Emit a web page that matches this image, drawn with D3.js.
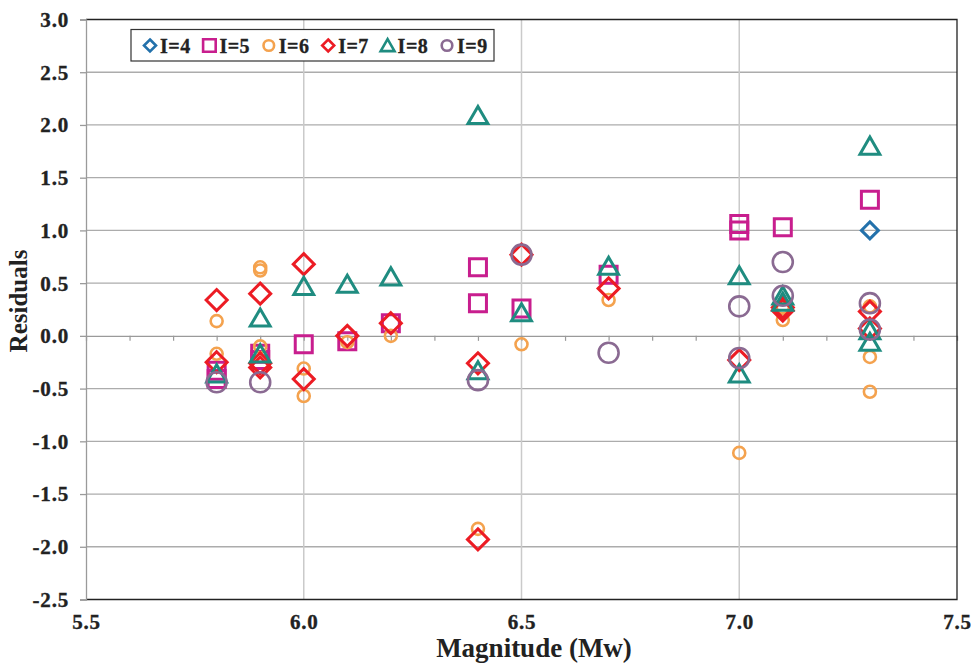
<!DOCTYPE html>
<html>
<head>
<meta charset="utf-8">
<script src="https://cdn.jsdelivr.net/npm/d3@7"></script>
<style>
  body { margin: 0; background: #fff; }
  svg { display: block; font-family: "Liberation Serif", "Times New Roman", serif; font-weight: bold; }
</style>
</head>
<body>
<svg></svg>
<script>
let width = 973
let height = 663
let margin = {top: 19.5, right: 16, bottom: 63.5, left: 86}

// residuals per intensity level, [magnitude, residual]
let seriesNames = ['I=4', 'I=5', 'I=6', 'I=7', 'I=8', 'I=9']

let i4 = [[7.3, 1.00]]
let i5 = [[5.8, -0.33], [5.8, -0.41], [5.9, -0.17], [5.9, -0.23], [6.0, -0.08], [6.1, -0.05],
          [6.2, 0.12], [6.4, 0.65], [6.4, 0.31], [6.5, 0.26], [6.7, 0.58], [7.0, 1.06],
          [7.0, 1.00], [7.1, 1.03], [7.3, 1.29]]
let i6 = [[5.8, 0.14], [5.8, -0.17], [5.9, 0.65], [5.9, 0.62], [5.9, -0.10], [6.0, -0.31],
          [6.0, -0.57], [6.1, -0.06], [6.2, 0.00], [6.4, -1.83], [6.5, -0.08], [6.7, 0.34],
          [7.0, -1.11], [7.1, 0.15], [7.1, 0.27], [7.3, 0.28], [7.3, -0.20], [7.3, -0.53]]
let i7 = [[5.8, 0.34], [5.8, -0.25], [5.9, 0.40], [5.9, -0.26], [5.9, -0.30], [6.0, 0.68],
          [6.0, -0.41], [6.1, 0.00], [6.2, 0.12], [6.4, -0.26], [6.4, -1.93], [6.5, 0.77],
          [6.7, 0.45], [7.0, -0.23], [7.1, 0.27], [7.1, 0.24], [7.3, 0.23], [7.3, 0.07]]
let i8 = [[5.8, -0.36], [5.9, 0.17], [5.9, -0.17], [6.0, 0.47], [6.1, 0.49], [6.2, 0.56],
          [6.4, 2.09], [6.4, -0.33], [6.5, 0.22], [6.7, 0.66], [7.0, 0.57], [7.0, -0.36],
          [7.1, 0.38], [7.1, 0.32], [7.3, 1.80], [7.3, 0.05], [7.3, -0.06]]
let i9 = [[5.8, -0.44], [5.9, -0.44], [6.4, -0.42], [6.5, 0.77], [6.7, -0.16], [7.0, 0.28],
          [7.0, -0.21], [7.1, 0.70], [7.1, 0.38], [7.3, 0.31], [7.3, 0.06]]

let xTicks = [5.5, 6.0, 6.5, 7.0, 7.5]
let yTicks = [-2.5, -2.0, -1.5, -1.0, -0.5, 0.0, 0.5, 1.0, 1.5, 2.0, 2.5, 3.0]
let xGrid = [6.0, 6.5, 7.0]

let series = [
  {name: seriesNames[0], data: i4, color: '#2371ab', shape: 'diamond', size: 8.5, legendSize: 6},
  {name: seriesNames[1], data: i5, color: '#c81e8e', shape: 'square', size: 8.5, legendSize: 6.3},
  {name: seriesNames[2], data: i6, color: '#f4a24e', shape: 'circle', size: 6, legendSize: 5.3},
  {name: seriesNames[3], data: i7, color: '#ec1c24', shape: 'diamond', size: 10.5, legendSize: 6},
  {name: seriesNames[4], data: i8, color: '#1f8c80', shape: 'triangle', size: 9, legendSize: 6.3},
  {name: seriesNames[5], data: i9, color: '#8a6a92', shape: 'circle', size: 10, legendSize: 5.3}
]

let svg = d3.select('svg').attr('width', width).attr('height', height)

let xScale = d3.scaleLinear().domain([5.5, 7.5]).range([margin.left, width - margin.right])
let yScale = d3.scaleLinear().domain([-2.5, 3.0]).range([height - margin.bottom, margin.top])

let x0 = xScale(5.5), x1 = xScale(7.5)
let yTop = yScale(3.0), yBot = yScale(-2.5)

// horizontal grid
svg.append('g')
   .selectAll('line')
   .data(yTicks.filter(d => d != 0 && d != 3.0 && d != -2.5))
   .enter()
   .append('line')
   .attr('x1', x0).attr('x2', x1)
   .attr('y1', d => yScale(d)).attr('y2', d => yScale(d))
   .attr('stroke', '#acacac').attr('stroke-width', 1.3)

// vertical grid
svg.append('g')
   .selectAll('line')
   .data(xGrid)
   .enter()
   .append('line')
   .attr('x1', d => xScale(d)).attr('x2', d => xScale(d))
   .attr('y1', yTop).attr('y2', yBot)
   .attr('stroke', '#cacaca').attr('stroke-width', 1.5)

// zero line with minor ticks
let zeroAxis = d3.axisBottom(xScale)
                 .tickValues(d3.range(56, 75).map(d => d / 10))
                 .tickSize(5)
                 .tickFormat('')
let zg = svg.append('g')
   .attr('transform', 'translate(0,' + yScale(0) + ')')
   .call(zeroAxis)
zg.select('.domain').attr('stroke', '#9a9a9a').attr('stroke-width', 1.3)
zg.selectAll('.tick line').attr('stroke', '#9a9a9a').attr('stroke-width', 1.2)

// frame
svg.append('path')
   .attr('d', `M${x0},${yTop}H${x1}V${yBot}H${x0}`)
   .attr('fill', 'none').attr('stroke', '#222').attr('stroke-width', 1.3)

let styleLabels = sel => sel
  .attr('fill', '#222')
  .attr('stroke', '#222')
  .attr('stroke-width', 0.35)
  .style('font-size', '21px')
  .style('letter-spacing', '0.8px')
  .style('font-family', '"Liberation Serif", serif')
  .style('font-weight', 'bold')

// y axis
let yAxis = d3.axisLeft(yScale)
              .tickValues(yTicks)
              .tickSize(6)
              .tickPadding(11)
              .tickFormat(d => d.toFixed(1))
let yg = svg.append('g')
   .attr('transform', 'translate(' + x0 + ',0)')
   .call(yAxis)
yg.select('.domain').attr('stroke', '#9a9a9a').attr('stroke-width', 1.3)
yg.selectAll('.tick line').attr('stroke', '#9a9a9a').attr('stroke-width', 1.3)
yg.selectAll('.tick text').call(styleLabels).attr('dy', '0.33em')

// x axis labels
let xAxis = d3.axisBottom(xScale)
              .tickValues(xTicks)
              .tickSize(0)
              .tickPadding(15)
              .tickFormat(d => d.toFixed(1))
let xg = svg.append('g')
   .attr('transform', 'translate(0,' + yBot + ')')
   .call(xAxis)
xg.select('.domain').remove()
xg.selectAll('.tick text').call(styleLabels)

// axis titles
svg.append('text')
   .attr('x', 534).attr('y', 657)
   .attr('text-anchor', 'middle')
   .attr('fill', '#222')
   .style('font-size', '27px')
   .text('Magnitude (Mw)')

svg.append('text')
   .attr('transform', 'translate(27,301) rotate(-90)')
   .attr('text-anchor', 'middle')
   .attr('fill', '#222')
   .style('font-size', '25px')
   .text('Residuals')

let shapePath = (shape, s) => {
  if (shape == 'diamond') return `M0,${-s}L${s},0L0,${s}L${-s},0Z`
  if (shape == 'square') return `M${-s},${-s}H${s}V${s}H${-s}Z`
  if (shape == 'triangle') return `M0,${-s}L${s * 1.1},${s * 0.9}L${-s * 1.1},${s * 0.9}Z`
  return `M${s},0A${s},${s} 0 1,1 ${-s},0A${s},${s} 0 1,1 ${s},0Z`
}

// markers
series.forEach(sr => {
  svg.append('g')
     .selectAll('path')
     .data(sr.data)
     .enter()
     .append('path')
     .attr('transform', d => 'translate(' + xScale(d[0]) + ',' + yScale(d[1]) + ')')
     .attr('d', shapePath(sr.shape, sr.size))
     .attr('fill', 'none')
     .attr('stroke', sr.color)
     .attr('stroke-width', sr.shape == 'circle' ? 2.6 : 3)
})

// legend
let legend = svg.append('g')
legend.append('rect')
      .attr('x', 131).attr('y', 29.5).attr('width', 363).attr('height', 31.5)
      .attr('fill', '#fff').attr('stroke', '#333').attr('stroke-width', 1.2)

let legendX = d3.scalePoint().domain(seriesNames).range([150, 447])

series.forEach(sr => {
  let lx = legendX(sr.name)
  legend.append('path')
        .attr('transform', 'translate(' + lx + ',45.5)')
        .attr('d', shapePath(sr.shape, sr.legendSize))
        .attr('fill', 'none')
        .attr('stroke', sr.color)
        .attr('stroke-width', 2.6)
  legend.append('text')
        .attr('x', lx + 10).attr('y', 52.5)
        .attr('fill', '#222')
        .attr('stroke', '#222')
        .attr('stroke-width', 0.3)
        .style('font-size', '20px')
        .style('letter-spacing', '0.5px')
        .text(sr.name)
})
</script>
</body>
</html>
